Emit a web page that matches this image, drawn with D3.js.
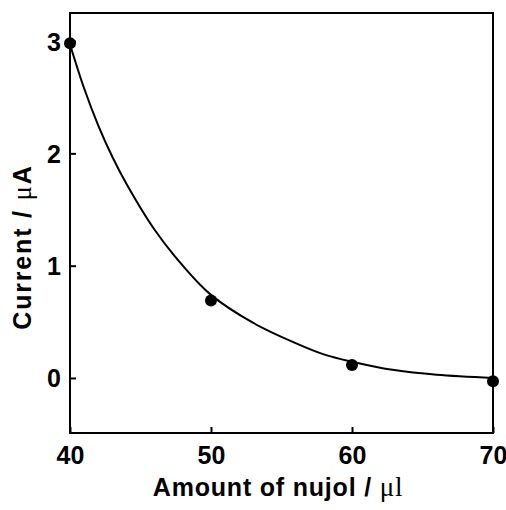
<!DOCTYPE html>
<html>
<head>
<meta charset="utf-8">
<script src="https://cdn.jsdelivr.net/npm/d3@7"></script>
<style>
  body { margin: 0; background: #fff; }
  text { font-family: "Liberation Sans", Arial, sans-serif; font-weight: bold; fill: #000; }
</style>
</head>
<body>
<div id="chart"></div>
<script>
// measured points
const nujol = [40, 50, 60, 70];
const current = [2.98, 0.69, 0.115, -0.03];
// fitted curve
const fitX = [40, 41, 42, 43, 44, 46, 48, 50, 53, 56, 58, 60, 63, 66, 70];
const fitY = [2.97, 2.58, 2.25, 1.97, 1.73, 1.32, 1.0, 0.74, 0.49, 0.31, 0.21, 0.145, 0.07, 0.028, 0.0];
const xTicks = [40, 50, 60, 70];
const yTicks = [0, 1, 2, 3];

const width = 506, height = 510;
const margin = { left: 70, right: 13, top: 13, bottom: 77 };

const svg = d3.select('#chart')
  .append('svg')
  .attr('width', width)
  .attr('height', height);

const x = d3.scaleLinear().domain([40, 70]).range([margin.left, width - margin.right]);
const y = d3.scaleLinear().domain([-0.49, 3.25]).range([height - margin.bottom, margin.top]);

// frame
svg.append('rect')
  .attr('x', x.range()[0])
  .attr('y', y.range()[1])
  .attr('width', x.range()[1] - x.range()[0])
  .attr('height', y.range()[0] - y.range()[1])
  .attr('fill', 'none')
  .attr('stroke', '#000')
  .attr('stroke-width', 2);

// axes, ticks pointing inward
const xAxis = svg.append('g')
  .attr('transform', `translate(0,${y.range()[0]})`)
  .call(d3.axisBottom(x).tickValues(xTicks).tickSize(-6).tickPadding(13).tickFormat(d3.format('d')));
const yAxis = svg.append('g')
  .attr('transform', `translate(${x.range()[0]},0)`)
  .call(d3.axisLeft(y).tickValues(yTicks).tickSize(-6).tickPadding(9).tickFormat(d3.format('d')));

[xAxis, yAxis].forEach((g) => {
  g.select('.domain').remove();
  g.selectAll('.tick line').attr('stroke', '#000').attr('stroke-width', 2);
  g.selectAll('.tick text')
    .attr('font-size', 25)
    .attr('font-family', '"Liberation Sans", Arial, sans-serif')
    .attr('font-weight', 'bold')
    .attr('fill', '#000');
});
yAxis.selectAll('.tick text').attr('dy', '0.36em');

// fit curve
const line = d3.line()
  .x((d, i) => x(fitX[i]))
  .y((d) => y(d))
  .curve(d3.curveCatmullRom);
svg.append('path')
  .attr('d', line(fitY))
  .attr('fill', 'none')
  .attr('stroke', '#000')
  .attr('stroke-width', 2);

// data points
svg.selectAll('.dot')
  .data(current)
  .enter()
  .append('circle')
  .attr('class', 'dot')
  .attr('cx', (d, i) => x(nujol[i]))
  .attr('cy', (d) => y(d))
  .attr('r', 6)
  .attr('fill', '#000');

// axis titles
const xt = svg.append('text')
  .attr('x', 278)
  .attr('y', 496)
  .attr('text-anchor', 'middle')
  .attr('letter-spacing', 0.8)
  .attr('font-size', 25);
xt.append('tspan').text('Amount of nujol / ');
xt.append('tspan').attr('font-family', '"Liberation Serif", serif').attr('font-weight', 'normal').attr('font-size', 27).text('μl');

const yt = svg.append('text')
  .attr('transform', 'translate(31,247) rotate(-90)')
  .attr('text-anchor', 'middle')
  .attr('letter-spacing', 1.8)
  .attr('font-size', 25);
yt.append('tspan').text('Current / ');
yt.append('tspan').attr('font-family', '"Liberation Serif", serif').attr('font-weight', 'normal').attr('font-size', 27).text('μ');
yt.append('tspan').text('A');
</script>
</body>
</html>
